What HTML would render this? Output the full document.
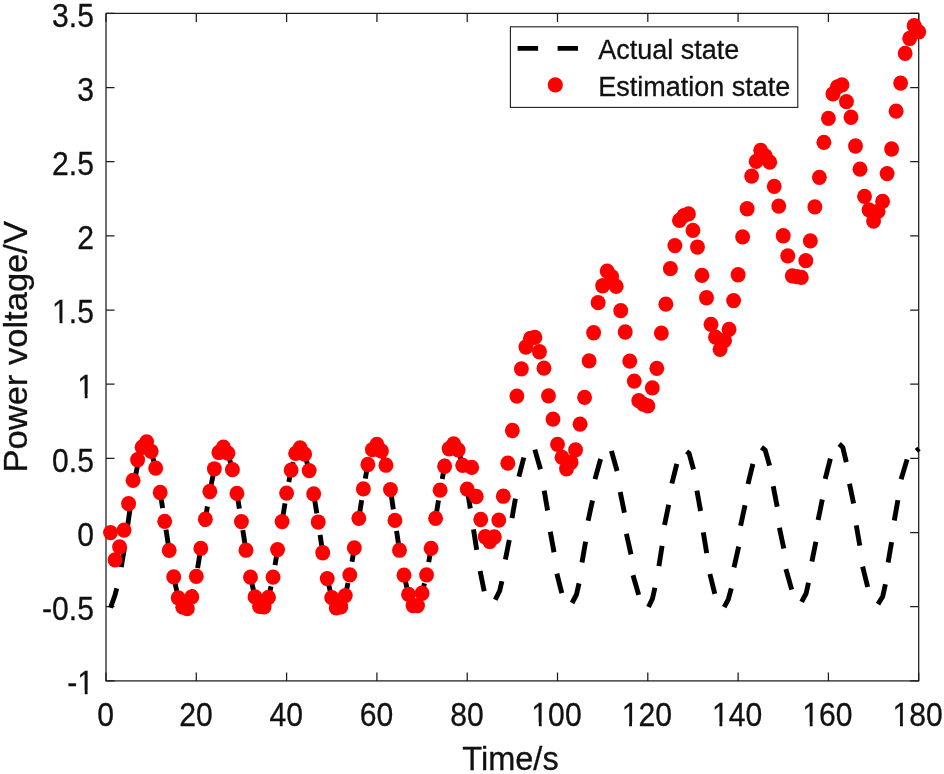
<!DOCTYPE html>
<html lang="en"><head><meta charset="utf-8"><title>Power voltage estimation</title>
<style>html,body{margin:0;padding:0;background:#fff}svg{display:block}text{font-family:"Liberation Sans",Arial,Helvetica,sans-serif;fill:#111;stroke:#111;stroke-width:0.3px}</style></head><body>
<svg width="944" height="774" viewBox="0 0 944 774">
<rect width="944" height="774" fill="#fff"/>
<g stroke="#1c1c1c" stroke-width="1.25" fill="none">
<rect x="106.0" y="13.4" width="812.7" height="667.5"/>
<path d="M106.00 680.9v-8.5M106.00 13.4v8.5"/>
<path d="M196.30 680.9v-8.5M196.30 13.4v8.5"/>
<path d="M286.60 680.9v-8.5M286.60 13.4v8.5"/>
<path d="M376.90 680.9v-8.5M376.90 13.4v8.5"/>
<path d="M467.20 680.9v-8.5M467.20 13.4v8.5"/>
<path d="M557.50 680.9v-8.5M557.50 13.4v8.5"/>
<path d="M647.80 680.9v-8.5M647.80 13.4v8.5"/>
<path d="M738.10 680.9v-8.5M738.10 13.4v8.5"/>
<path d="M828.40 680.9v-8.5M828.40 13.4v8.5"/>
<path d="M918.70 680.9v-8.5M918.70 13.4v8.5"/>
<path d="M106.0 680.90h8.5M918.7 680.90h-8.5"/>
<path d="M106.0 606.73h8.5M918.7 606.73h-8.5"/>
<path d="M106.0 532.57h8.5M918.7 532.57h-8.5"/>
<path d="M106.0 458.40h8.5M918.7 458.40h-8.5"/>
<path d="M106.0 384.23h8.5M918.7 384.23h-8.5"/>
<path d="M106.0 310.07h8.5M918.7 310.07h-8.5"/>
<path d="M106.0 235.90h8.5M918.7 235.90h-8.5"/>
<path d="M106.0 161.73h8.5M918.7 161.73h-8.5"/>
<path d="M106.0 87.57h8.5M918.7 87.57h-8.5"/>
<path d="M106.0 13.40h8.5M918.7 13.40h-8.5"/>
</g>
<g fill="none" stroke="#000" stroke-width="4.9" stroke-linejoin="round">
<polyline points="110.52,607.77 115.03,595.01 119.55,577.21 124.06,550.37 128.57,519.22 133.09,488.07 137.61,465.07 142.12,450.98 146.63,446.83 151.15,451.28 155.67,468.19 160.18,492.52 164.69,521.29 169.21,550.37 173.72,576.92 178.24,597.83 182.75,607.18 187.27,608.66 191.79,596.94 196.30,576.32 200.81,548.44 205.33,519.22 209.85,491.48 214.36,468.78 218.88,452.47 223.39,447.27 227.91,453.21 232.42,469.67 236.94,493.41 241.45,521.59 245.97,550.22 250.48,577.21 255.00,596.94 259.51,606.29 264.02,606.73 268.54,597.39 273.06,577.21 277.57,549.62 282.09,521.59 286.60,493.11 291.12,470.12 295.63,453.36 300.14,448.02 304.66,454.10 309.18,470.56 313.69,493.85 318.21,522.03 322.72,552.74 327.24,578.55 331.75,597.68 336.26,607.92 340.78,606.73 345.30,595.61 349.81,574.84 354.32,547.85 358.84,518.33 363.36,488.96 367.87,464.48 372.38,449.65 376.90,444.31 381.42,450.98 385.93,465.22 390.45,489.55 394.96,520.40 399.48,550.22 403.99,575.14 408.50,594.42 413.02,605.55 417.54,605.55 422.05,593.24 426.56,574.84 431.08,548.29 435.60,518.33 440.11,490.14 444.62,466.26 449.14,448.76 453.66,443.86 458.17,449.80 462.69,465.37 467.20,489.11" stroke-dasharray="20.4 21.7"/>
<polyline points="467.2,489.0 470.3,508.5"/>
<polyline points="473.5,529.4 476.7,549.8"/>
<polyline points="480.1,571.1 484.2,591.2"/>
<polyline points="495.3,599.8 499.7,590.7 501.9,581.2"/>
<polyline points="505.4,559.6 509.3,539.9"/>
<polyline points="512.0,518.1 515.4,498.7"/>
<polyline points="518.9,476.6 523.8,457.5"/>
<polyline points="534.8,449.6 540.5,469.3"/>
<polyline points="544.2,490.6 547.6,510.5"/>
<polyline points="550.3,531.8 554.0,552.2"/>
<polyline points="556.9,573.6 561.8,593.2"/>
<polyline points="572.1,603.0 576.5,594.5 579.0,583.4"/>
<polyline points="582.0,562.5 585.6,541.7"/>
<polyline points="588.1,520.8 592.5,500.4"/>
<polyline points="595.0,479.1 600.6,459.0"/>
<polyline points="611.4,450.9 617.1,471.0"/>
<polyline points="620.2,492.1 624.4,512.7"/>
<polyline points="626.4,533.8 631.0,554.4"/>
<polyline points="633.0,575.3 638.7,594.9"/>
<polyline points="648.5,607.0 652.5,598.5 654.9,587.8"/>
<polyline points="658.9,566.2 662.1,545.8"/>
<polyline points="664.5,525.0 668.7,504.8"/>
<polyline points="671.9,483.5 676.8,463.9"/>
<polyline points="686.6,451.3 689.1,453.3 693.5,469.3"/>
<polyline points="696.9,490.6 700.6,511.0"/>
<polyline points="703.3,532.3 706.7,553.2"/>
<polyline points="709.9,574.0 714.8,593.9"/>
<polyline points="724.2,607.2 728.3,599.3 731.3,588.3"/>
<polyline points="734.0,567.4 738.7,546.6"/>
<polyline points="740.6,525.7 745.0,505.3"/>
<polyline points="748.0,484.0 752.9,463.9"/>
<polyline points="761.5,447.2 765.2,450.1 769.6,465.6"/>
<polyline points="773.2,486.2 777.2,506.8"/>
<polyline points="779.4,527.7 783.8,548.4"/>
<polyline points="785.9,569.2 791.7,589.6"/>
<polyline points="801.6,601.8 806.1,593.5 808.5,582.8"/>
<polyline points="811.9,561.5 815.9,541.7"/>
<polyline points="818.1,520.1 822.3,499.6"/>
<polyline points="825.2,478.8 830.4,458.7"/>
<polyline points="839.2,443.9 842.7,447.2 846.3,462.1"/>
<polyline points="849.5,483.8 853.6,503.6"/>
<polyline points="856.3,525.3 859.8,545.7"/>
<polyline points="862.6,566.6 867.7,587.0"/>
<polyline points="878.0,604.1 882.7,596.5 885.4,584.3"/>
<polyline points="888.1,562.5 891.6,542.2"/>
<polyline points="894.3,520.5 897.9,500.1"/>
<polyline points="901.1,479.2 907.1,459.4"/>
<polyline points="916.4,450.9 919.0,448.5"/>
</g>
<g fill="#ff0000">
<ellipse cx="110.52" cy="532.57" rx="7.45" ry="7.65"/>
<ellipse cx="115.03" cy="559.86" rx="7.45" ry="7.65"/>
<ellipse cx="119.55" cy="546.81" rx="7.45" ry="7.65"/>
<ellipse cx="124.06" cy="530.04" rx="7.45" ry="7.65"/>
<ellipse cx="128.57" cy="503.64" rx="7.45" ry="7.65"/>
<ellipse cx="133.09" cy="480.35" rx="7.45" ry="7.65"/>
<ellipse cx="137.61" cy="459.73" rx="7.45" ry="7.65"/>
<ellipse cx="142.12" cy="447.27" rx="7.45" ry="7.65"/>
<ellipse cx="146.63" cy="441.79" rx="7.45" ry="7.65"/>
<ellipse cx="151.15" cy="451.28" rx="7.45" ry="7.65"/>
<ellipse cx="155.67" cy="468.19" rx="7.45" ry="7.65"/>
<ellipse cx="160.18" cy="492.52" rx="7.45" ry="7.65"/>
<ellipse cx="164.69" cy="521.29" rx="7.45" ry="7.65"/>
<ellipse cx="169.21" cy="550.37" rx="7.45" ry="7.65"/>
<ellipse cx="173.72" cy="576.92" rx="7.45" ry="7.65"/>
<ellipse cx="178.24" cy="597.83" rx="7.45" ry="7.65"/>
<ellipse cx="182.75" cy="607.18" rx="7.45" ry="7.65"/>
<ellipse cx="187.27" cy="608.66" rx="7.45" ry="7.65"/>
<ellipse cx="191.79" cy="596.94" rx="7.45" ry="7.65"/>
<ellipse cx="196.30" cy="576.32" rx="7.45" ry="7.65"/>
<ellipse cx="200.81" cy="548.44" rx="7.45" ry="7.65"/>
<ellipse cx="205.33" cy="519.22" rx="7.45" ry="7.65"/>
<ellipse cx="209.85" cy="491.48" rx="7.45" ry="7.65"/>
<ellipse cx="214.36" cy="468.78" rx="7.45" ry="7.65"/>
<ellipse cx="218.88" cy="452.47" rx="7.45" ry="7.65"/>
<ellipse cx="223.39" cy="447.27" rx="7.45" ry="7.65"/>
<ellipse cx="227.91" cy="453.21" rx="7.45" ry="7.65"/>
<ellipse cx="232.42" cy="469.67" rx="7.45" ry="7.65"/>
<ellipse cx="236.94" cy="493.41" rx="7.45" ry="7.65"/>
<ellipse cx="241.45" cy="521.59" rx="7.45" ry="7.65"/>
<ellipse cx="245.97" cy="550.22" rx="7.45" ry="7.65"/>
<ellipse cx="250.48" cy="577.21" rx="7.45" ry="7.65"/>
<ellipse cx="255.00" cy="596.94" rx="7.45" ry="7.65"/>
<ellipse cx="259.51" cy="606.29" rx="7.45" ry="7.65"/>
<ellipse cx="264.02" cy="606.73" rx="7.45" ry="7.65"/>
<ellipse cx="268.54" cy="597.39" rx="7.45" ry="7.65"/>
<ellipse cx="273.06" cy="577.21" rx="7.45" ry="7.65"/>
<ellipse cx="277.57" cy="549.62" rx="7.45" ry="7.65"/>
<ellipse cx="282.09" cy="521.59" rx="7.45" ry="7.65"/>
<ellipse cx="286.60" cy="493.11" rx="7.45" ry="7.65"/>
<ellipse cx="291.12" cy="470.12" rx="7.45" ry="7.65"/>
<ellipse cx="295.63" cy="453.36" rx="7.45" ry="7.65"/>
<ellipse cx="300.14" cy="448.02" rx="7.45" ry="7.65"/>
<ellipse cx="304.66" cy="454.10" rx="7.45" ry="7.65"/>
<ellipse cx="309.18" cy="470.56" rx="7.45" ry="7.65"/>
<ellipse cx="313.69" cy="493.85" rx="7.45" ry="7.65"/>
<ellipse cx="318.21" cy="522.03" rx="7.45" ry="7.65"/>
<ellipse cx="322.72" cy="552.74" rx="7.45" ry="7.65"/>
<ellipse cx="327.24" cy="578.55" rx="7.45" ry="7.65"/>
<ellipse cx="331.75" cy="597.68" rx="7.45" ry="7.65"/>
<ellipse cx="336.26" cy="607.92" rx="7.45" ry="7.65"/>
<ellipse cx="340.78" cy="606.73" rx="7.45" ry="7.65"/>
<ellipse cx="345.30" cy="595.61" rx="7.45" ry="7.65"/>
<ellipse cx="349.81" cy="574.84" rx="7.45" ry="7.65"/>
<ellipse cx="354.32" cy="547.85" rx="7.45" ry="7.65"/>
<ellipse cx="358.84" cy="518.33" rx="7.45" ry="7.65"/>
<ellipse cx="363.36" cy="488.96" rx="7.45" ry="7.65"/>
<ellipse cx="367.87" cy="464.48" rx="7.45" ry="7.65"/>
<ellipse cx="372.38" cy="449.65" rx="7.45" ry="7.65"/>
<ellipse cx="376.90" cy="444.31" rx="7.45" ry="7.65"/>
<ellipse cx="381.42" cy="450.98" rx="7.45" ry="7.65"/>
<ellipse cx="385.93" cy="465.22" rx="7.45" ry="7.65"/>
<ellipse cx="390.45" cy="489.55" rx="7.45" ry="7.65"/>
<ellipse cx="394.96" cy="520.40" rx="7.45" ry="7.65"/>
<ellipse cx="399.48" cy="550.22" rx="7.45" ry="7.65"/>
<ellipse cx="403.99" cy="575.14" rx="7.45" ry="7.65"/>
<ellipse cx="408.50" cy="594.42" rx="7.45" ry="7.65"/>
<ellipse cx="413.02" cy="605.55" rx="7.45" ry="7.65"/>
<ellipse cx="417.54" cy="605.55" rx="7.45" ry="7.65"/>
<ellipse cx="422.05" cy="593.24" rx="7.45" ry="7.65"/>
<ellipse cx="426.56" cy="574.84" rx="7.45" ry="7.65"/>
<ellipse cx="431.08" cy="548.29" rx="7.45" ry="7.65"/>
<ellipse cx="435.60" cy="518.33" rx="7.45" ry="7.65"/>
<ellipse cx="440.11" cy="490.14" rx="7.45" ry="7.65"/>
<ellipse cx="444.62" cy="466.26" rx="7.45" ry="7.65"/>
<ellipse cx="449.14" cy="448.76" rx="7.45" ry="7.65"/>
<ellipse cx="453.66" cy="443.86" rx="7.45" ry="7.65"/>
<ellipse cx="458.17" cy="449.80" rx="7.45" ry="7.65"/>
<ellipse cx="462.69" cy="465.37" rx="7.45" ry="7.65"/>
<ellipse cx="467.20" cy="489.11" rx="7.45" ry="7.65"/>
<ellipse cx="471.71" cy="467.30" rx="7.45" ry="7.65"/>
<ellipse cx="476.23" cy="496.52" rx="7.45" ry="7.65"/>
<ellipse cx="480.75" cy="519.51" rx="7.45" ry="7.65"/>
<ellipse cx="485.26" cy="536.72" rx="7.45" ry="7.65"/>
<ellipse cx="489.77" cy="541.47" rx="7.45" ry="7.65"/>
<ellipse cx="494.29" cy="537.02" rx="7.45" ry="7.65"/>
<ellipse cx="498.81" cy="520.11" rx="7.45" ry="7.65"/>
<ellipse cx="503.32" cy="496.22" rx="7.45" ry="7.65"/>
<ellipse cx="507.84" cy="463.15" rx="7.45" ry="7.65"/>
<ellipse cx="512.35" cy="430.51" rx="7.45" ry="7.65"/>
<ellipse cx="516.87" cy="396.10" rx="7.45" ry="7.65"/>
<ellipse cx="521.38" cy="368.96" rx="7.45" ry="7.65"/>
<ellipse cx="525.89" cy="347.00" rx="7.45" ry="7.65"/>
<ellipse cx="530.41" cy="338.40" rx="7.45" ry="7.65"/>
<ellipse cx="534.92" cy="337.36" rx="7.45" ry="7.65"/>
<ellipse cx="539.44" cy="351.75" rx="7.45" ry="7.65"/>
<ellipse cx="543.96" cy="368.21" rx="7.45" ry="7.65"/>
<ellipse cx="548.47" cy="395.80" rx="7.45" ry="7.65"/>
<ellipse cx="552.99" cy="419.09" rx="7.45" ry="7.65"/>
<ellipse cx="557.50" cy="444.31" rx="7.45" ry="7.65"/>
<ellipse cx="562.02" cy="457.36" rx="7.45" ry="7.65"/>
<ellipse cx="566.53" cy="468.78" rx="7.45" ry="7.65"/>
<ellipse cx="571.05" cy="462.26" rx="7.45" ry="7.65"/>
<ellipse cx="575.56" cy="449.80" rx="7.45" ry="7.65"/>
<ellipse cx="580.08" cy="424.13" rx="7.45" ry="7.65"/>
<ellipse cx="584.59" cy="397.29" rx="7.45" ry="7.65"/>
<ellipse cx="589.11" cy="360.80" rx="7.45" ry="7.65"/>
<ellipse cx="593.62" cy="332.76" rx="7.45" ry="7.65"/>
<ellipse cx="598.13" cy="302.65" rx="7.45" ry="7.65"/>
<ellipse cx="602.65" cy="285.74" rx="7.45" ry="7.65"/>
<ellipse cx="607.17" cy="271.05" rx="7.45" ry="7.65"/>
<ellipse cx="611.68" cy="276.69" rx="7.45" ry="7.65"/>
<ellipse cx="616.20" cy="286.33" rx="7.45" ry="7.65"/>
<ellipse cx="620.71" cy="310.66" rx="7.45" ry="7.65"/>
<ellipse cx="625.23" cy="332.02" rx="7.45" ry="7.65"/>
<ellipse cx="629.74" cy="361.09" rx="7.45" ry="7.65"/>
<ellipse cx="634.25" cy="381.12" rx="7.45" ry="7.65"/>
<ellipse cx="638.77" cy="400.70" rx="7.45" ry="7.65"/>
<ellipse cx="643.28" cy="404.11" rx="7.45" ry="7.65"/>
<ellipse cx="647.80" cy="405.89" rx="7.45" ry="7.65"/>
<ellipse cx="652.32" cy="387.94" rx="7.45" ry="7.65"/>
<ellipse cx="656.83" cy="368.36" rx="7.45" ry="7.65"/>
<ellipse cx="661.35" cy="333.06" rx="7.45" ry="7.65"/>
<ellipse cx="665.86" cy="304.13" rx="7.45" ry="7.65"/>
<ellipse cx="670.38" cy="268.68" rx="7.45" ry="7.65"/>
<ellipse cx="674.89" cy="245.54" rx="7.45" ry="7.65"/>
<ellipse cx="679.41" cy="220.32" rx="7.45" ry="7.65"/>
<ellipse cx="683.92" cy="215.58" rx="7.45" ry="7.65"/>
<ellipse cx="688.44" cy="213.95" rx="7.45" ry="7.65"/>
<ellipse cx="692.95" cy="230.41" rx="7.45" ry="7.65"/>
<ellipse cx="697.47" cy="247.03" rx="7.45" ry="7.65"/>
<ellipse cx="701.98" cy="275.36" rx="7.45" ry="7.65"/>
<ellipse cx="706.50" cy="297.75" rx="7.45" ry="7.65"/>
<ellipse cx="711.01" cy="324.31" rx="7.45" ry="7.65"/>
<ellipse cx="715.52" cy="337.21" rx="7.45" ry="7.65"/>
<ellipse cx="720.04" cy="349.37" rx="7.45" ry="7.65"/>
<ellipse cx="724.56" cy="340.48" rx="7.45" ry="7.65"/>
<ellipse cx="729.07" cy="329.35" rx="7.45" ry="7.65"/>
<ellipse cx="733.59" cy="300.57" rx="7.45" ry="7.65"/>
<ellipse cx="738.10" cy="274.76" rx="7.45" ry="7.65"/>
<ellipse cx="742.62" cy="236.94" rx="7.45" ry="7.65"/>
<ellipse cx="747.13" cy="208.76" rx="7.45" ry="7.65"/>
<ellipse cx="751.64" cy="176.12" rx="7.45" ry="7.65"/>
<ellipse cx="756.16" cy="161.44" rx="7.45" ry="7.65"/>
<ellipse cx="760.67" cy="150.31" rx="7.45" ry="7.65"/>
<ellipse cx="765.19" cy="155.80" rx="7.45" ry="7.65"/>
<ellipse cx="769.71" cy="162.18" rx="7.45" ry="7.65"/>
<ellipse cx="774.22" cy="186.36" rx="7.45" ry="7.65"/>
<ellipse cx="778.74" cy="206.08" rx="7.45" ry="7.65"/>
<ellipse cx="783.25" cy="235.75" rx="7.45" ry="7.65"/>
<ellipse cx="787.77" cy="255.92" rx="7.45" ry="7.65"/>
<ellipse cx="792.28" cy="275.80" rx="7.45" ry="7.65"/>
<ellipse cx="796.80" cy="276.69" rx="7.45" ry="7.65"/>
<ellipse cx="801.31" cy="277.43" rx="7.45" ry="7.65"/>
<ellipse cx="805.83" cy="260.67" rx="7.45" ry="7.65"/>
<ellipse cx="810.34" cy="240.94" rx="7.45" ry="7.65"/>
<ellipse cx="814.86" cy="206.83" rx="7.45" ry="7.65"/>
<ellipse cx="819.37" cy="177.31" rx="7.45" ry="7.65"/>
<ellipse cx="823.88" cy="142.30" rx="7.45" ry="7.65"/>
<ellipse cx="828.40" cy="118.42" rx="7.45" ry="7.65"/>
<ellipse cx="832.92" cy="93.94" rx="7.45" ry="7.65"/>
<ellipse cx="837.43" cy="86.82" rx="7.45" ry="7.65"/>
<ellipse cx="841.95" cy="84.90" rx="7.45" ry="7.65"/>
<ellipse cx="846.46" cy="101.66" rx="7.45" ry="7.65"/>
<ellipse cx="850.98" cy="117.23" rx="7.45" ry="7.65"/>
<ellipse cx="855.49" cy="146.01" rx="7.45" ry="7.65"/>
<ellipse cx="860.00" cy="169.15" rx="7.45" ry="7.65"/>
<ellipse cx="864.52" cy="196.30" rx="7.45" ry="7.65"/>
<ellipse cx="869.04" cy="209.94" rx="7.45" ry="7.65"/>
<ellipse cx="873.55" cy="221.07" rx="7.45" ry="7.65"/>
<ellipse cx="878.07" cy="211.43" rx="7.45" ry="7.65"/>
<ellipse cx="882.58" cy="201.34" rx="7.45" ry="7.65"/>
<ellipse cx="887.10" cy="173.60" rx="7.45" ry="7.65"/>
<ellipse cx="891.61" cy="148.98" rx="7.45" ry="7.65"/>
<ellipse cx="896.12" cy="111.15" rx="7.45" ry="7.65"/>
<ellipse cx="900.64" cy="83.12" rx="7.45" ry="7.65"/>
<ellipse cx="905.15" cy="53.45" rx="7.45" ry="7.65"/>
<ellipse cx="909.67" cy="38.47" rx="7.45" ry="7.65"/>
<ellipse cx="914.19" cy="25.71" rx="7.45" ry="7.65"/>
<ellipse cx="918.70" cy="31.79" rx="7.45" ry="7.65"/>
</g>
<g font-size="32.6" text-anchor="middle">
<text transform="translate(105.7 725.9) scale(0.925 1)">0</text>
<text transform="translate(196.0 725.9) scale(0.925 1)">20</text>
<text transform="translate(286.3 725.9) scale(0.925 1)">40</text>
<text transform="translate(376.6 725.9) scale(0.925 1)">60</text>
<text transform="translate(466.9 725.9) scale(0.925 1)">80</text>
<text transform="translate(556.5 725.9) scale(0.925 1)">100</text>
<text transform="translate(646.8 725.9) scale(0.925 1)">120</text>
<text transform="translate(737.1 725.9) scale(0.925 1)">140</text>
<text transform="translate(827.4 725.9) scale(0.925 1)">160</text>
<text transform="translate(917.7 725.9) scale(0.925 1)">180</text>
</g>
<g font-size="32.6" text-anchor="end">
<text transform="translate(94 694.2) scale(0.925 1)">-1</text>
<text transform="translate(94 620.0) scale(0.925 1)">-0.5</text>
<text transform="translate(94 545.9) scale(0.925 1)">0</text>
<text transform="translate(94 471.7) scale(0.925 1)">0.5</text>
<text transform="translate(94 397.5) scale(0.925 1)">1</text>
<text transform="translate(94 323.4) scale(0.925 1)">1.5</text>
<text transform="translate(94 249.2) scale(0.925 1)">2</text>
<text transform="translate(94 175.0) scale(0.925 1)">2.5</text>
<text transform="translate(94 100.9) scale(0.925 1)">3</text>
<text transform="translate(94 26.7) scale(0.925 1)">3.5</text>
</g>
<g fill="#fff"><rect x="532.82" y="722.20" width="6.01" height="5.2"/><rect x="541.69" y="722.20" width="5.95" height="5.2"/><rect x="623.12" y="722.20" width="6.01" height="5.2"/><rect x="631.99" y="722.20" width="5.95" height="5.2"/><rect x="713.42" y="722.20" width="6.01" height="5.2"/><rect x="722.29" y="722.20" width="5.95" height="5.2"/><rect x="803.72" y="722.20" width="6.01" height="5.2"/><rect x="812.59" y="722.20" width="5.95" height="5.2"/><rect x="894.02" y="722.20" width="6.01" height="5.2"/><rect x="902.89" y="722.20" width="5.95" height="5.2"/><rect x="78.70" y="690.50" width="6.01" height="5.2"/><rect x="87.58" y="690.50" width="5.95" height="5.2"/><rect x="78.70" y="393.83" width="6.01" height="5.2"/><rect x="87.58" y="393.83" width="5.95" height="5.2"/><rect x="53.55" y="319.67" width="6.01" height="5.2"/><rect x="62.43" y="319.67" width="5.95" height="5.2"/></g>
<text x="510.5" y="770" font-size="32.5" text-anchor="middle">Time/s</text>
<text transform="translate(26.9 346.8) rotate(-90)" font-size="32.5" text-anchor="middle" textLength="251.5" lengthAdjust="spacingAndGlyphs">Power voltage/V</text>
<rect x="510.4" y="26.8" width="287.4" height="80.6" fill="#fff" stroke="#1c1c1c" stroke-width="1.1"/>
<path d="M517.6 48.4h20.5M557.6 48.4h20.4" stroke="#000" stroke-width="4.8" fill="none"/>
<circle cx="555.3" cy="84.9" r="7.6" fill="#ff0000"/>
<text x="598.3" y="59.2" font-size="27">Actual state</text>
<text x="598.3" y="95.5" font-size="27">Estimation state</text>
</svg></body></html>
